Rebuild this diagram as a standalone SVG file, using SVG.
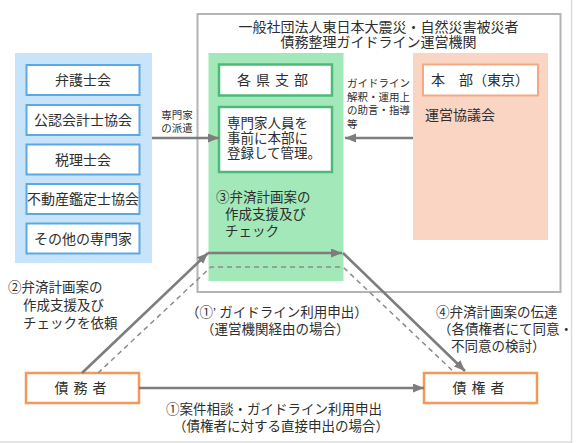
<svg xmlns="http://www.w3.org/2000/svg" width="578" height="443" viewBox="0 0 578 443">
<style>
text{font-family:"Liberation Sans","Noto Sans CJK JP",sans-serif;fill:#2e2e2e;}
.t14{font-size:14px;}
.t13{font-size:13.5px;}
.t10{font-size:10.5px;}
.c{text-anchor:middle;}
.wb{fill:#fff;stroke:#5ba9e4;stroke-width:2;}
.wg{fill:#fff;stroke:#4dba7a;stroke-width:2.5;}
.wo{fill:#fff;stroke:#f2995a;stroke-width:2.5;}
.arr{fill:none;stroke:#7d7d7d;stroke-width:2.6;marker-end:url(#ah);}
.dash{fill:none;stroke:#8c8c8c;stroke-width:1.5;stroke-dasharray:5 4;}
</style>
<defs>
<marker id="ah" markerUnits="userSpaceOnUse" markerWidth="12" markerHeight="10" refX="11" refY="4.5" orient="auto">
<path d="M0,0 L11,4.5 L0,9 z" fill="#7d7d7d"/>
</marker>
</defs>
<rect width="578" height="443" fill="#fff"/>
<line x1="571.5" y1="0" x2="571.5" y2="443" stroke="#dcdcdc" stroke-width="1.5"/>
<line x1="0" y1="442" x2="572" y2="442" stroke="#dcdcdc" stroke-width="1.5"/>

<g id="organization">
<rect x="197.5" y="14" width="363" height="278" fill="#fff" stroke="#b4b4b4" stroke-width="2"/>
<text class="t14 c" x="378.5" y="31.5">一般社団法人東日本大震災・自然災害被災者</text>
<text class="t14 c" x="378.5" y="47">債務整理ガイドライン運営機関</text>
</g>

<g id="experts">
<rect x="15" y="53" width="137" height="210" fill="#c8e4fb"/>
<rect class="wb" x="26.5" y="65" width="113" height="30"/>
<text class="t14 c" x="83" y="85">弁護士会</text>
<rect class="wb" x="26.5" y="105" width="113" height="30"/>
<text class="t14 c" x="83" y="125">公認会計士協会</text>
<rect class="wb" x="26.5" y="144.5" width="113" height="30"/>
<text class="t14 c" x="83" y="164.5">税理士会</text>
<rect class="wb" x="26.5" y="184" width="113" height="30"/>
<text class="t14 c" x="83" y="204">不動産鑑定士協会</text>
<rect class="wb" x="26.5" y="223.5" width="113" height="30"/>
<text class="t14 c" x="83" y="243.5">その他の専門家</text>
</g>

<g id="branch">
<rect x="208.5" y="53" width="135" height="228" fill="#a3e8b8"/>
<rect class="wg" x="219" y="64.5" width="113" height="31"/>
<text class="t14 c" x="275" y="85" style="letter-spacing:5px;">各県支部</text>
<rect class="wg" x="219" y="107" width="113" height="65"/>
<text class="t13" x="227" y="128">専門家人員を</text>
<text class="t13" x="227" y="143">事前に本部に</text>
<text class="t13" x="227" y="158">登録して管理。</text>
<text class="t13" x="216" y="202">③弁済計画案の</text>
<text class="t13" x="225" y="219">作成支援及び</text>
<text class="t13" x="225" y="236">チェック</text>
</g>

<g id="headquarters">
<rect x="413" y="53" width="135" height="187" fill="#fad5c4"/>
<rect x="423" y="64.5" width="115" height="31" fill="#fff" stroke="#f4a985" stroke-width="2"/>
<text class="t14 c" x="480" y="85">本　部（東京）</text>
<text class="t14" x="425" y="120">運営協議会</text>
</g>

<g id="debtor">
<rect class="wo" x="26" y="373" width="113" height="30"/>
<text class="t14 c" x="83" y="393" style="letter-spacing:5px;">債務者</text>
</g>

<g id="creditor">
<rect class="wo" x="424" y="373" width="113" height="30"/>
<text class="t14 c" x="481" y="393" style="letter-spacing:5px;">債権者</text>
</g>

<g id="connectors">
<path class="arr" d="M152,138 L219,138"/>
<path class="arr" d="M413,138 L345,138"/>
<path class="arr" d="M139,388 L424,388"/>
<path class="arr" d="M82,373 L208,253"/>
<path class="arr" d="M208,253 L342,253"/>
<path class="arr" d="M343,253 L465,371"/>
<path class="dash" d="M98,373 L211,267 L343,267 L455,373"/>
<text class="t10 c" x="177" y="119">専門家</text>
<text class="t10 c" x="177" y="132">の派遣</text>
<text class="t10" x="347" y="87">ガイドライン</text>
<text class="t10" x="347" y="100.5">解釈・運用上</text>
<text class="t10" x="347" y="114">の助言・指導</text>
<text class="t10" x="347" y="127.5">等</text>
<text class="t13" x="8" y="292">②弁済計画案の</text>
<text class="t13" x="23" y="310">作成支援及び</text>
<text class="t13" x="23" y="328">チェックを依頼</text>
<text class="t13" x="186" y="317">（①’ ガイドライン利用申出）</text>
<text class="t13" x="201" y="334">（運営機関経由の場合）</text>
<text class="t13" x="436" y="317">④弁済計画案の伝達</text>
<text class="t13" x="438" y="334">（各債権者にて同意・</text>
<text class="t13" x="451" y="351">不同意の検討）</text>
<text class="t13" x="166" y="414">①案件相談・ガイドライン利用申出</text>
<text class="t13" x="173" y="431">（債権者に対する直接申出の場合）</text>
</g>
</svg>
